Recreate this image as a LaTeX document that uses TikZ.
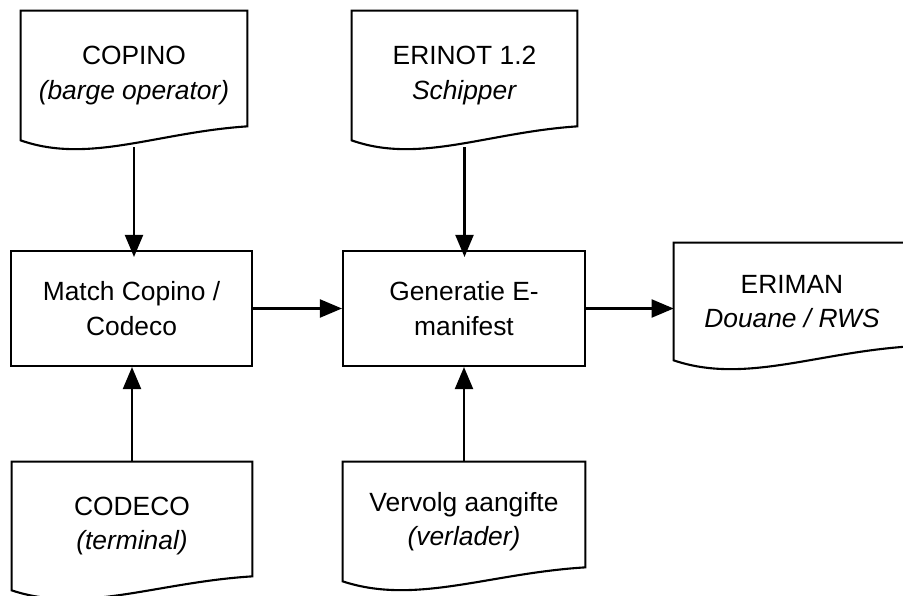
\documentclass[tikz,border=0pt]{standalone}
\usepackage{fontspec}
\setmainfont{Liberation Sans}
\usetikzlibrary{calc, arrows.meta}
\tikzset{proc/.style={draw, line width=1.2pt, align=center, inner sep=0pt},
         doc/.style={align=center, inner sep=0pt,
           append after command={\pgfextra{%
             \draw[line width=1.2pt, line join=miter]
               (\tikzlastnode.north west) -- (\tikzlastnode.north east)
               -- ([yshift=2.8mm]\tikzlastnode.south east)
               .. controls ($(\tikzlastnode.south west)!0.6!(\tikzlastnode.south east)+(0,1.6mm)$)
               and ($(\tikzlastnode.south west)!0.3!(\tikzlastnode.south east)+(0,-4.8mm)$)
               .. (\tikzlastnode.south west) -- cycle;}}},
         flow/.style={-{Triangle[length=4.4mm,width=3.6mm]}, line width=1.2pt},
        }

\begin{document}
\begin{tikzpicture}[every node/.style={font=\fontsize{15}{19.5}\selectfont}]
        \useasboundingbox (0,0) rectangle (18.06,-11.92);

        \node[doc, minimum width=4.52cm, minimum height=2.58cm](copino)at(2.68,-1.51){COPINO\\\textit{(barge operator)}};
        \node[doc, minimum width=4.50cm, minimum height=2.58cm](erinot)at(9.29,-1.51){ERINOT 1.2\\\textit{Schipper}};

        \node[proc, minimum width=4.82cm, minimum height=2.30cm](match)at(2.63,-6.17){Match Copino /\\Codeco};
        \node[proc, minimum width=4.84cm, minimum height=2.30cm](gen)at(9.28,-6.17){Generatie E-\\manifest};
        \node[doc, minimum width=4.72cm, minimum height=2.34cm](eriman)at(15.84,-6.03){ERIMAN\\\textit{Douane / RWS}};

        \node[doc, minimum width=4.80cm, minimum height=2.56cm](codeco)at(2.64,-10.52){CODECO\\\textit{(terminal)}};
        \node[doc, minimum width=4.84cm, minimum height=2.38cm](vervolg)at(9.28,-10.43){Vervolg aangifte\\\textit{(verlader)}};

        \draw[flow]([yshift=-1.4mm]copino.south)--([yshift=-1.4mm]copino.south |- match.north);
        \draw[flow]([yshift=-1.4mm]erinot.south)--([yshift=-1.4mm]erinot.south |- gen.north);

        \draw[flow](codeco.north)--(codeco.north |- match.south);
        \draw[flow](vervolg.north)--(vervolg.north |- gen.south);

        \draw[flow](match.east)--(gen.west);
        \draw[flow](gen.east)--(gen.east -| eriman.west);
    \end{tikzpicture}
\end{document}
